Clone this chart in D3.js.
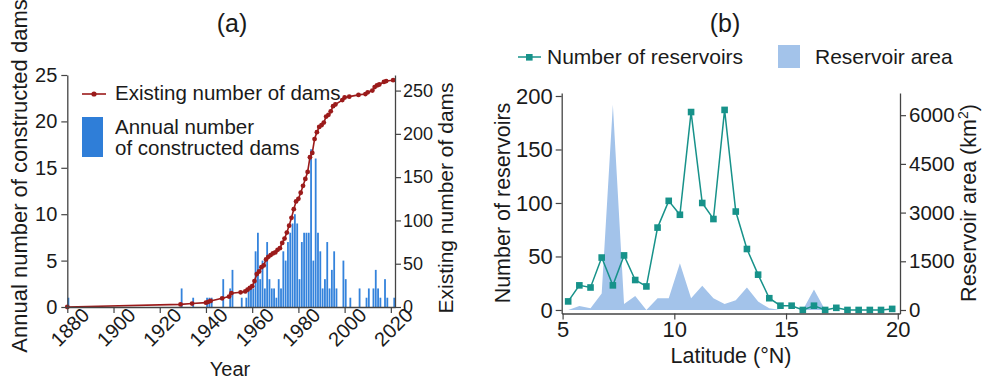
<!DOCTYPE html>
<html><head><meta charset="utf-8">
<script src="https://cdn.jsdelivr.net/npm/d3@7"></script>
<style>
html,body{margin:0;padding:0;background:#fff;}
svg{display:block;font-family:"Liberation Sans",Arial,sans-serif;}
</style></head>
<body>
<svg id="c" width="982" height="383"></svg>
<script>
// ---------- Panel (a) data ----------
const damYears = [1880,1929,1934,1940,1941,1942,1947,1950,1951,1955,1957,1958,1959,1960,
  1961,1962,1963,1964,1965,1966,1967,1968,1969,1970,
  1971,1972,1973,1974,1975,1976,1977,1978,1979,1980,
  1981,1982,1983,1984,1985,1986,1987,1988,1989,1990,
  1991,1992,1993,1994,1995,1996,1999,2000,2002,2006,2009,2010,2012,2013,2014,2015,2017,2018,2021];
const annualDams = [1,2,1,1,1,1,3,2,4,1,1,2,2,2,
  6,8,3,5,2,7,3,2,2,1,
  3,2,6,5,7,8,9,10,9,3,
  7,8,8,8,17,5,16,8,6,2,
  3,7,2,4,6,2,5,3,1,2,1,2,2,4,2,1,3,1,1];
const existingDams = [0,3,4,5,6,7,10,12,16,17,18,20,22,24,
  30,38,41,46,48,55,58,60,62,63,
  66,68,74,79,86,94,103,113,122,125,
  132,140,148,156,173,178,194,202,208,210,
  213,220,222,226,232,234,239,242,243,245,246,248,250,254,256,257,260,261,262];
const yearTicks = [1880,1900,1920,1940,1960,1980,2000,2020];
const leftTicksA = [0,5,10,15,20,25];
const rightTicksA = [0,50,100,150,200,250];

// ---------- Panel (b) data ----------
const latitudes = [5.25,5.75,6.25,6.75,7.25,7.75,8.25,8.75,9.25,9.75,10.25,10.75,11.25,11.75,12.25,12.75,
  13.25,13.75,14.25,14.75,15.25,15.75,16.25,16.75,17.25,17.75,18.25,18.75,19.25,19.75];
const reservoirCount = [8,23,21,49,23,51,28,22,77,102,89,185,100,85,187,92,
  57,33,11,4,4,0,4,0,2,0,0,0,0,1];
const reservoirArea = [0,120,50,510,6320,185,430,0,360,360,1440,360,750,360,185,300,
  690,260,50,0,0,0,630,0,0,0,0,0,0,0];
const latTicks = [5,10,15,20];
const leftTicksB = [0,50,100,150,200];
const rightTicksB = [0,1500,3000,4500,6000];

const svg = d3.select("#c");
const AX = "#444", TXT = "#1a1a1a", FONT = "Liberation Sans, Arial, sans-serif";
svg.append("rect").attr("width",982).attr("height",383).attr("fill","#fff");

function styleAxis(a, fs){
  a.select(".domain").attr("stroke",AX).attr("stroke-width",1.3);
  a.selectAll(".tick line").attr("stroke",AX).attr("stroke-width",1.2);
  a.selectAll(".tick text").attr("fill",TXT).attr("font-size",fs).attr("font-family",FONT);
}

// ================= Panel (a) =================
const xA = d3.scaleLinear().domain([1880, 2021.8]).range([67.3, 395]);
const yA = d3.scaleLinear().domain([0, 25]).range([307, 75]);
const yA2 = d3.scaleLinear().domain([0, 268]).range([307, 75]);
const gA = svg.append("g");

gA.selectAll("rect.bar").data(damYears).join("rect")
  .attr("class","bar")
  .attr("x", (d)=>xA(d)+0.2)
  .attr("width", 1.8)
  .attr("y", (d,i)=>yA(annualDams[i]))
  .attr("height", (d,i)=>yA(0)-yA(annualDams[i]))
  .attr("fill", "#3483dc");

const lineA = d3.line().x(d=>xA(d[0])).y(d=>yA2(d[1]));
const ptsA = damYears.map((y,i)=>[y, existingDams[i]]);
gA.append("path").attr("d", lineA(ptsA)).attr("fill","none")
  .attr("stroke","#9b1b1b").attr("stroke-width",1.6);
gA.selectAll("circle.pt").data(ptsA).join("circle").attr("class","pt")
  .attr("cx", d=>xA(d[0])).attr("cy", d=>yA2(d[1])).attr("r", 2.4).attr("fill","#9b1b1b");

const axLA = gA.append("g").attr("transform","translate(67.3,0)")
  .call(d3.axisLeft(yA).tickValues(leftTicksA).tickSize(6).tickSizeOuter(0).tickPadding(4));
const axRA = gA.append("g").attr("transform","translate(395,0)")
  .call(d3.axisRight(yA2).tickValues(rightTicksA).tickSize(6).tickSizeOuter(0).tickPadding(2));
const axBA = gA.append("g").attr("transform","translate(0,307)")
  .call(d3.axisBottom(xA).tickValues(yearTicks).tickFormat(d3.format("d")).tickSize(6).tickSizeOuter(0));
styleAxis(axLA, 20); styleAxis(axRA, 18); styleAxis(axBA, 20);
axBA.selectAll(".tick text")
  .attr("text-anchor","middle").attr("dy",null).attr("y",0)
  .attr("transform","translate(7,25) rotate(-45)");

svg.append("text").attr("x",232).attr("y",32).attr("text-anchor","middle")
  .attr("font-size",25).attr("fill",TXT).text("(a)");
svg.append("text").attr("transform","translate(27,176) rotate(-90)").attr("text-anchor","middle")
  .attr("font-size",22).attr("fill",TXT).text("Annual number of constructed dams");
svg.append("text").attr("transform","translate(453,198) rotate(-90)").attr("text-anchor","middle")
  .attr("font-size",21).attr("fill",TXT).text("Existing number of dams");
svg.append("text").attr("x",230).attr("y",376).attr("text-anchor","middle")
  .attr("font-size",20).attr("fill",TXT).text("Year");

// legend (a)
svg.append("line").attr("x1",82).attr("x2",106).attr("y1",94).attr("y2",94)
  .attr("stroke","#9b1b1b").attr("stroke-width",1.6);
svg.append("circle").attr("cx",94).attr("cy",94).attr("r",2.6).attr("fill","#9b1b1b");
svg.append("text").attr("x",115).attr("y",100).attr("font-size",20.5).attr("fill",TXT).text("Existing number of dams");
svg.append("rect").attr("x",82).attr("y",117).attr("width",21).attr("height",40).attr("fill","#2f7ed8");
svg.append("text").attr("x",115).attr("y",134).attr("font-size",20.5).attr("fill",TXT).text("Annual number");
svg.append("text").attr("x",115).attr("y",155).attr("font-size",20.5).attr("fill",TXT).text("of constructed dams");

// ================= Panel (b) =================
const xB = d3.scaleLinear().domain([4.96, 20.1]).range([561.7, 900]);
const yB = d3.scaleLinear().domain([-3.3, 202.8]).range([313.5, 93]);
const yB2 = d3.scaleLinear().domain([-108, 6683]).range([313.5, 93]);
const gB = svg.append("g");

const areaB = d3.area().x((d,i)=>xB(latitudes[i])).y0(yB2(0)).y1((d)=>yB2(d));
gB.append("path").attr("d", areaB(reservoirArea)).attr("fill","#a3c3ea");

const lineB = d3.line().x((d,i)=>xB(latitudes[i])).y(d=>yB(d));
gB.append("path").attr("d", lineB(reservoirCount)).attr("fill","none")
  .attr("stroke","#17928a").attr("stroke-width",1.5);
gB.selectAll("rect.sq").data(reservoirCount).join("rect").attr("class","sq")
  .attr("x",(d,i)=>xB(latitudes[i])-3.3).attr("y",d=>yB(d)-3.3)
  .attr("width",6.6).attr("height",6.6).attr("fill","#17928a");

const axLB = gB.append("g").attr("transform","translate(561.7,0)")
  .call(d3.axisLeft(yB).tickValues(leftTicksB).tickSize(6).tickSizeOuter(0).tickPadding(3));
const axRB = gB.append("g").attr("transform","translate(900,0)")
  .call(d3.axisRight(yB2).tickValues(rightTicksB).tickFormat(d3.format("d")).tickSize(6).tickSizeOuter(0).tickPadding(3));
const axBB = gB.append("g").attr("transform","translate(0,313.5)")
  .call(d3.axisBottom(xB).tickValues(latTicks).tickSize(6).tickSizeOuter(0).tickPadding(2));
styleAxis(axLB, 22); styleAxis(axRB, 20.5); styleAxis(axBB, 22);

svg.append("text").attr("x",725).attr("y",32).attr("text-anchor","middle")
  .attr("font-size",25).attr("fill",TXT).text("(b)");
svg.append("text").attr("transform","translate(510,203) rotate(-90)").attr("text-anchor","middle")
  .attr("font-size",21.5).attr("fill",TXT).text("Number of reservoirs");
const rl = svg.append("text").attr("transform","translate(976,203) rotate(-90)").attr("text-anchor","middle")
  .attr("font-size",21.5).attr("fill",TXT);
rl.append("tspan").text("Reservoir area (km");
rl.append("tspan").attr("font-size",14).attr("dy",-8).text("2");
rl.append("tspan").attr("dy",8).text(")");
svg.append("text").attr("x",731).attr("y",363).attr("text-anchor","middle")
  .attr("font-size",21.5).attr("fill",TXT).text("Latitude (°N)");

// legend (b)
svg.append("line").attr("x1",518).attr("x2",541).attr("y1",57).attr("y2",57)
  .attr("stroke","#17928a").attr("stroke-width",1.5);
svg.append("rect").attr("x",526).attr("y",54).attr("width",6.6).attr("height",6.6).attr("fill","#17928a");
svg.append("text").attr("x",547).attr("y",64).attr("font-size",21).attr("fill",TXT).text("Number of reservoirs");
svg.append("rect").attr("x",778).attr("y",45).attr("width",22).attr("height",23).attr("fill","#a3c3ea");
svg.append("text").attr("x",815).attr("y",64).attr("font-size",21).attr("fill",TXT).text("Reservoir area");
</script>
</body></html>
